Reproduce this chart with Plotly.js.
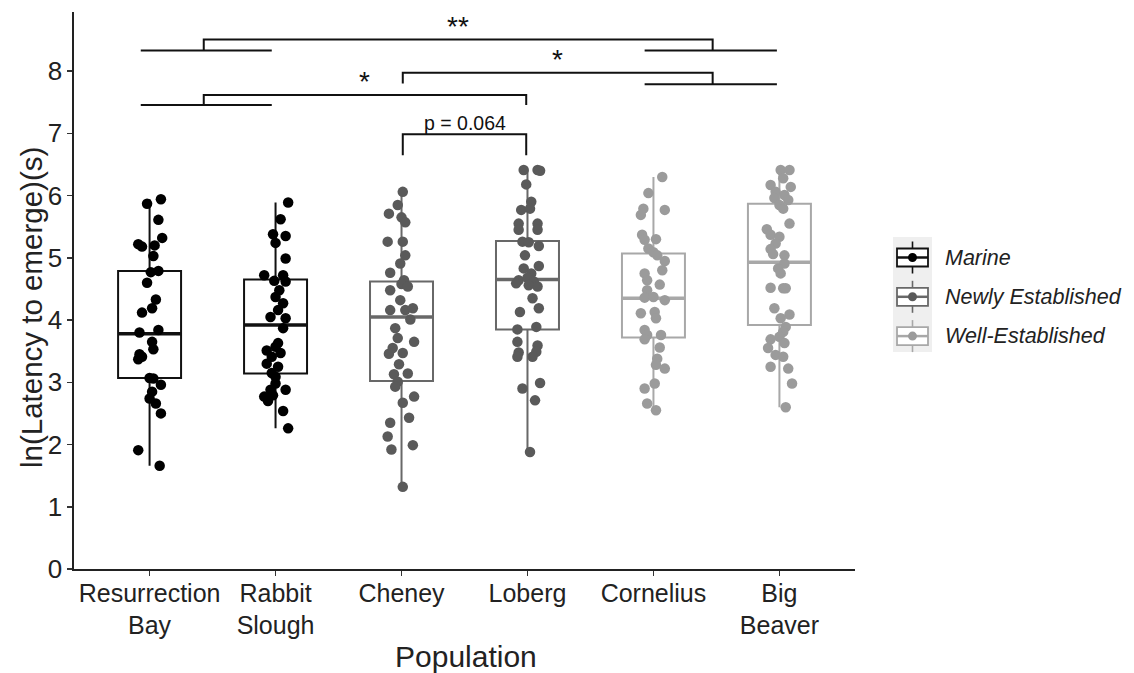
<!DOCTYPE html>
<html><head><meta charset="utf-8">
<script src="https://cdn.plot.ly/plotly-3.0.1.min.js"></script>
<style>html,body{margin:0;padding:0;background:#fff}</style>
</head><body><div id="chart" style="width:1134px;height:673px"></div>
<script>
// ---------- data ----------
const populations = ["Resurrection<br>Bay","Rabbit<br>Slough","Cheney","Loberg","Cornelius","Big<br>Beaver"];
const popGroup = [0,0,1,1,2,2];
const groupNames = ["Marine","Newly Established","Well-Established"];
const pointColors = ["#000000","#5a5a5a","#9b9b9b"];
const boxColors = ["#111111","#686868","#a8a8a8"];

const q1 = [3.07,3.14,3.02,3.85,3.72,3.92];
const median = [3.78,3.92,4.05,4.65,4.35,4.93];
const q3 = [4.79,4.65,4.62,5.27,5.07,5.87];
const lowerWhisker = [1.66,2.26,1.32,1.88,2.55,2.60];
const upperWhisker = [5.94,5.89,6.06,6.41,6.30,6.41];

const resBayY = [5.87,5.94,5.61,5.32,5.22,5.18,5.20,5.03,4.77,4.79,4.60,4.33,4.19,4.12,3.80,3.84,3.65,3.53,3.45,3.37,3.41,3.07,3.06,2.96,2.85,2.74,2.66,2.50,1.91,1.66];
const resBayJit = [-0.02,0.09,0.07,0.10,-0.09,-0.06,0.04,0.03,0.01,0.07,-0.02,0.05,0.02,-0.06,-0.08,0.07,0.02,0.03,-0.08,-0.09,-0.06,0,0.03,0.09,0.02,0,0.05,0.09,-0.09,0.08];
const rabbitY = [5.89,5.62,5.38,5.35,5.24,4.99,4.72,4.72,4.63,4.62,4.48,4.37,4.27,4.16,4.05,4.03,3.87,3.63,3.57,3.51,3.41,3.47,3.30,3.25,3.15,3.09,2.98,2.88,2.88,2.77,2.70,2.79,2.54,2.26];
const rabbitJit = [0.10,0.04,-0.02,0.08,0,0.08,-0.09,0.06,-0.01,0.08,0.03,0,0.06,0.02,-0.04,0.08,0.06,0.02,0,-0.07,-0.03,0.04,-0.07,0.02,-0.03,0,0,-0.04,0.08,-0.09,-0.06,-0.02,0.06,0.10];
const cheneyY = [6.06,5.85,5.71,5.65,5.57,5.26,5.26,5.04,4.91,4.76,4.64,4.58,4.48,4.54,4.32,4.16,4.16,4.19,4.01,3.87,3.71,3.65,3.55,3.46,3.47,3.29,3.13,3.14,3.01,2.93,2.77,2.67,2.43,2.35,2.13,1.99,1.92,1.32];
const cheneyJit = [0.01,-0.03,-0.10,0,0.03,-0.11,0.01,0.03,-0.01,-0.09,0.02,0,-0.09,0.05,-0.01,-0.09,0.03,0.09,0.07,-0.05,-0.03,0.10,-0.07,-0.10,0.01,-0.02,-0.06,0.05,-0.03,-0.05,0.10,0.01,0.06,-0.09,-0.11,0.09,-0.08,0.01];
const lobergY = [6.41,6.41,6.40,6.18,5.90,5.77,5.79,5.55,5.55,5.45,5.45,5.26,5.25,5.19,5.04,4.87,4.83,4.75,4.64,4.68,4.62,4.59,4.54,4.56,4.35,4.19,4.13,3.85,3.89,3.65,3.59,3.49,3.48,3.41,3.41,2.90,2.99,2.71,1.88];
const lobergJit = [-0.03,0.08,0.10,-0.01,0.03,-0.05,0.02,-0.07,0.08,-0.07,0.08,-0.04,0.01,0.09,-0.02,0.09,-0.03,0.03,-0.07,0,0.05,-0.09,0.08,0.01,0.04,0.09,-0.06,-0.08,0.07,-0.08,0.08,0.07,-0.07,-0.08,0.04,-0.04,0.10,0.06,0.02];
const corneliusY = [6.30,6.04,5.79,5.69,5.77,5.37,5.29,5.30,5.15,5.09,5.04,4.95,4.80,4.75,4.64,4.57,4.48,4.36,4.37,4.32,4.11,4.13,4.03,3.84,3.76,3.76,3.69,3.56,3.38,3.28,3.22,2.98,2.90,2.66,2.55];
const corneliusJit = [0.07,-0.04,-0.08,-0.10,0.09,-0.09,-0.07,0.02,-0.04,0,0.03,0.09,0.07,-0.07,-0.05,0.05,-0.05,-0.07,0,0.09,-0.10,0.01,0.02,-0.07,-0.05,0.06,-0.07,0.05,0.03,0.02,0.09,0.01,-0.07,-0.05,0.02];
const bigBeaverY = [6.41,6.41,6.28,6.17,6.14,6.06,6.01,5.96,5.93,5.85,5.79,5.55,5.46,5.37,5.34,5.23,5.14,5.06,5.04,4.91,4.83,4.75,4.52,4.51,4.51,4.19,4.09,4.03,3.89,3.81,3.73,3.69,3.63,3.55,3.44,3.41,3.25,3.22,2.98,2.60];
const bigBeaverJit = [0.01,0.08,0.03,-0.07,0.09,-0.03,0.04,-0.04,0.07,0,0.03,0.08,-0.10,-0.07,0,-0.03,-0.07,-0.05,0.04,0.04,-0.01,0.01,-0.07,0.03,0.05,-0.04,0.08,0.01,0.05,0.03,0,-0.07,0.04,-0.09,-0.03,0.03,-0.07,0.07,0.10,0.05];

const pointsY = [resBayY, rabbitY, cheneyY, lobergY, corneliusY, bigBeaverY];
const pointsJit = [resBayJit, rabbitJit, cheneyJit, lobergJit, corneliusJit, bigBeaverJit];

// significance brackets (polylines in data units) and labels
const bracketLines = [
  [[-0.07,8.33],[0.97,8.33]],
  [[0.43,8.33],[0.43,8.51],[4.47,8.51],[4.47,8.33]],
  [[3.93,8.33],[4.98,8.33]],
  [[2.01,7.80],[2.01,7.975],[4.47,7.975],[4.47,7.79]],
  [[3.93,7.79],[4.98,7.79]],
  [[-0.07,7.455],[0.97,7.455]],
  [[0.43,7.455],[0.43,7.617],[2.99,7.617],[2.99,7.455]],
  [[2.01,6.648],[2.01,6.985],[2.99,6.985],[2.99,6.648]]
];
const sigLabels = ["**","*","*","p = 0.064"];
const sigLabelX = [2.45,3.235,1.706,2.50];
const sigLabelY = [8.72,8.18,7.83,7.16];
const sigLabelSize = [28,28,28,19.5];

// ---------- build ----------
const FONT = "Liberation Sans, Arial, Helvetica, sans-serif";
const L=74, T=12, W=781, H=557;
const px = v=>(v-L)/W, py = v=>(T+H-v)/H;

const traces = [];
populations.forEach((p,i)=>{
  const g = popGroup[i];
  traces.push({type:'box', x:[i], q1:[q1[i]], median:[median[i]], q3:[q3[i]],
    lowerfence:[lowerWhisker[i]], upperfence:[upperWhisker[i]], width:0.5,
    whiskerwidth:0, boxpoints:false, fillcolor:'rgba(0,0,0,0)',
    line:{color:boxColors[g], width:2}, showlegend:false, hoverinfo:'skip'});
});
populations.forEach((p,i)=>{
  const g = popGroup[i];
  traces.push({type:'scatter', mode:'lines', x:[i-0.25,i+0.25], y:[median[i],median[i]],
    line:{color:boxColors[g], width:3.5}, showlegend:false, hoverinfo:'skip'});
});
populations.forEach((p,i)=>{
  const g = popGroup[i];
  traces.push({type:'scatter', mode:'markers', x:pointsY[i].map((v,k)=>i+pointsJit[i][k]), y:pointsY[i],
    marker:{color:pointColors[g], size:10.5, line:{width:0}}, showlegend:false, name:groupNames[g]});
});

const shapes = [];
bracketLines.forEach(pl=>{
  const d = pl.map((pt,k)=>(k?'L':'M')+pt[0]+','+pt[1]).join(' ');
  shapes.push({type:'path', xref:'x', yref:'y', path:d, line:{color:'#111', width:2}});
});
const annotations = sigLabels.map((t,k)=>({x:sigLabelX[k], y:sigLabelY[k], xref:'x', yref:'y', text:t,
  showarrow:false, xanchor:'center', yanchor:'middle', font:{family:FONT, size:sigLabelSize[k], color:'#111'}}));

// legend (pixel positions converted to paper)
shapes.push({type:'rect', xref:'paper', yref:'paper', x0:px(893), x1:px(932), y0:py(352), y1:py(237),
  fillcolor:'#efefef', line:{width:0}, layer:'below'});
groupNames.forEach((g,k)=>{
  const cy = 257.5 + 39.3*k, col = boxColors[k], cx = 912.5;
  shapes.push({type:'rect', xref:'paper', yref:'paper', x0:px(897), x1:px(928), y0:py(cy+9), y1:py(cy-9), line:{color:col,width:1.8}, fillcolor:'#ffffff'});
  shapes.push({type:'line', xref:'paper', yref:'paper', x0:px(cx), x1:px(cx), y0:py(cy-9), y1:py(cy-16), line:{color:col,width:1.6}});
  shapes.push({type:'line', xref:'paper', yref:'paper', x0:px(cx), x1:px(cx), y0:py(cy+9), y1:py(cy+16), line:{color:col,width:1.6}});
  shapes.push({type:'line', xref:'paper', yref:'paper', x0:px(897), x1:px(928), y0:py(cy), y1:py(cy), line:{color:col,width:2.5}});
  shapes.push({type:'circle', xref:'paper', yref:'paper', x0:px(cx-4.5), x1:px(cx+4.5), y0:py(cy+4.5), y1:py(cy-4.5), fillcolor:pointColors[k], line:{width:0}});
  annotations.push({xref:'paper', yref:'paper', x:px(943), y:py(cy), xanchor:'left', yanchor:'middle', showarrow:false,
    text:'<i>'+g+'</i>', font:{family:FONT, size:21.5, color:'#222'}});
});
// axis titles, placed as in the reference
annotations.push({xref:'paper', yref:'paper', x:px(31), y:py(308), xanchor:'center', yanchor:'middle', showarrow:false,
  textangle:-90, text:'ln(Latency to emerge)(s)', font:{family:FONT, size:29.5, color:'#222'}});
annotations.push({xref:'paper', yref:'paper', x:px(466), y:py(656), xanchor:'center', yanchor:'middle', showarrow:false,
  text:'Population', font:{family:FONT, size:30, color:'#222'}});

const layout = {
  width:1134, height:673, margin:{l:L, r:1134-L-W, t:T, b:673-T-H},
  paper_bgcolor:'#fff', plot_bgcolor:'#fff', showlegend:false,
  font:{family:FONT, color:'#222'},
  xaxis:{range:[-0.6,5.6], tickvals:[0,1,2,3,4,5], ticktext:populations, showgrid:false, zeroline:false,
    showline:true, linecolor:'#222', linewidth:1.6, ticks:'outside', ticklen:5, tickwidth:1.5, tickcolor:'#333',
    ticklabelstandoff:-4, tickfont:{size:25, color:'#222'}},
  yaxis:{range:[0,8.95], tickvals:[0,1,2,3,4,5,6,7,8], showgrid:false, zeroline:false,
    showline:true, linecolor:'#222', linewidth:1.6, ticks:'outside', ticklen:5, tickwidth:1.5, tickcolor:'#333',
    tickfont:{size:26, color:'#222'}},
  shapes:shapes, annotations:annotations
};
Plotly.newPlot('chart', traces, layout, {displayModeBar:false, staticPlot:true});
</script></body></html>
